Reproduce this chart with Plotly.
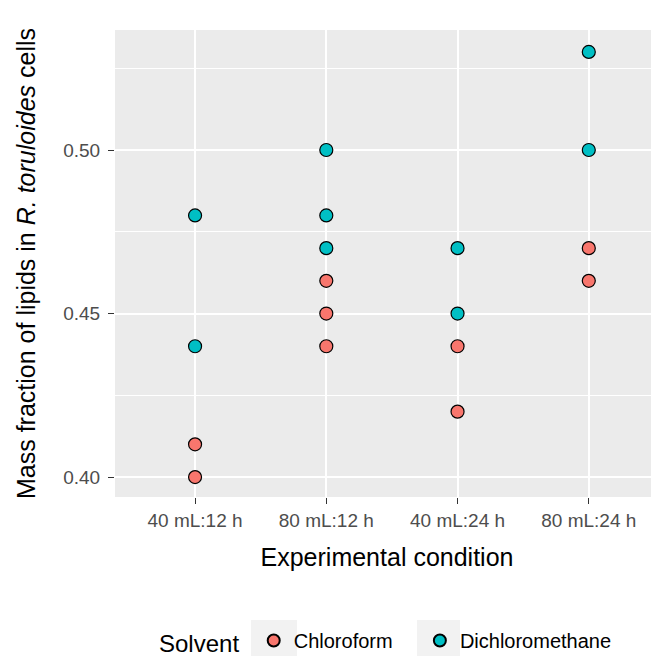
import plotly.graph_objects as go

conditions = ["40 mL:12 h", "80 mL:12 h", "40 mL:24 h", "80 mL:24 h"]

chloroform_cond = ["40 mL:12 h", "40 mL:12 h",
                   "80 mL:12 h", "80 mL:12 h", "80 mL:12 h",
                   "40 mL:24 h", "40 mL:24 h",
                   "80 mL:24 h", "80 mL:24 h"]
chloroform_val = [0.40, 0.41,
                  0.44, 0.45, 0.46,
                  0.42, 0.44,
                  0.46, 0.47]

dcm_cond = ["40 mL:12 h", "40 mL:12 h",
            "80 mL:12 h", "80 mL:12 h", "80 mL:12 h",
            "40 mL:24 h", "40 mL:24 h",
            "80 mL:24 h", "80 mL:24 h"]
dcm_val = [0.44, 0.48,
           0.47, 0.48, 0.50,
           0.45, 0.47,
           0.50, 0.53]

y_ticks = [0.40, 0.45, 0.50]
y_tick_labels = ["0.40", "0.45", "0.50"]

FONT = "Liberation Sans, Arial, sans-serif"
PAD = "\u00a0"

fig = go.Figure()
fig.add_trace(go.Scatter(
    x=chloroform_cond, y=chloroform_val, mode="markers", name="Chloroform" + PAD * 4,
    marker=dict(size=13, color="#F8766D", line=dict(color="black", width=1.2)),
))
fig.add_trace(go.Scatter(
    x=dcm_cond, y=dcm_val, mode="markers", name="Dichloromethane",
    marker=dict(size=13, color="#00BFC4", line=dict(color="black", width=1.2)),
))

# light grey legend-key backgrounds (ggplot style), in paper coordinates
key_bg = [(0.25, 0.3346), (0.5551, 0.6342)]
for x0, x1 in key_bg:
    fig.add_shape(type="rect", xref="paper", yref="paper",
                  x0=x0, x1=x1, y0=-0.2634, y1=-0.36,
                  fillcolor="#F2F2F2", line=dict(width=0), layer="below")

# figure is offset by the page's 8px body margin; compensate
fig.update_layout(
    width=651, height=648,
    margin=dict(l=107, r=0, t=22, b=159, autoexpand=False),
    paper_bgcolor="white",
    plot_bgcolor="#EBEBEB",
    font=dict(family=FONT, color="black"),
    showlegend=True,
    legend=dict(
        orientation="h", x=0.5, xanchor="center",
        yref="container", y=0.0216, yanchor="middle",
        title=dict(text="Solvent" + PAD, side="left", font=dict(size=24, color="black")),
        font=dict(size=20, color="black"),
        itemsizing="constant",
        bgcolor="rgba(0,0,0,0)",
    ),
    xaxis=dict(
        type="category", categoryorder="array", categoryarray=conditions,
        range=[-0.61, 3.535],
        showgrid=True, gridcolor="white", gridwidth=1.5,
        zeroline=False, showline=False,
        ticks="outside", ticklen=6, tickcolor="#333333", tickwidth=1,
        tickfont=dict(size=19, color="#4D4D4D"),
        title=dict(text="Experimental condition", font=dict(size=25, color="black"), standoff=18),
    ),
    yaxis=dict(
        range=[0.3939, 0.5367],
        tickmode="array", tickvals=y_ticks, ticktext=y_tick_labels,
        showgrid=True, gridcolor="white", gridwidth=1.5,
        minor=dict(tickmode="array", tickvals=[0.425, 0.475, 0.525], showgrid=True,
                   gridcolor="white", gridwidth=0.75, ticks=""),
        zeroline=False, showline=False,
        ticks="outside", ticklen=6, tickcolor="#333333", tickwidth=1,
        ticklabelstandoff=4,
        tickfont=dict(size=19, color="#4D4D4D"),
        title=dict(text="Mass fraction of lipids in <i>R. toruloides</i> cells",
                   font=dict(size=25, color="black"), standoff=20),
    ),
)

fig.write_html("out.html")
